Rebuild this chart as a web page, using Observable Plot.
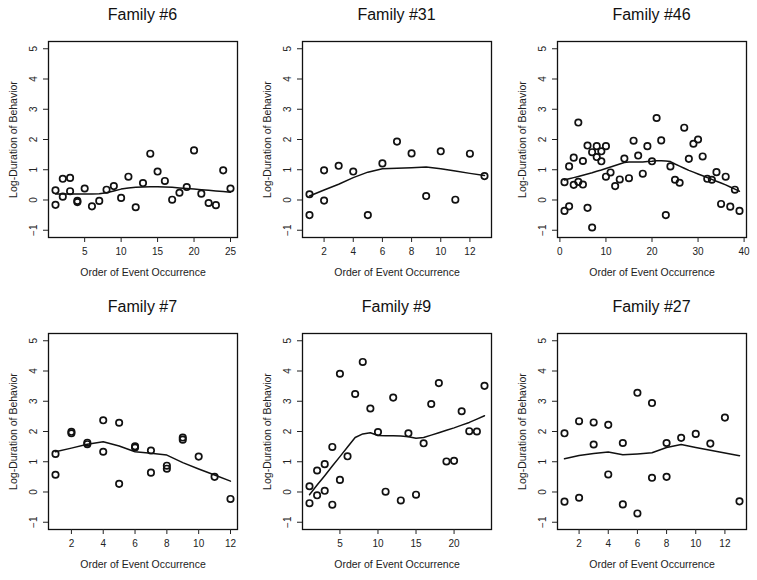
<!DOCTYPE html>
<html>
<head>
<meta charset="utf-8">
<script src="https://cdn.jsdelivr.net/npm/d3@7"></script>
<script src="https://cdn.jsdelivr.net/npm/@observablehq/plot@0.6"></script>
<style>
  body { margin: 0; background: #fff; }
  #chart { position: relative; width: 757px; height: 580px; font-family: "Liberation Sans", Arial, sans-serif; }
  .panel { position: absolute; width: 252px; }
  .panel .title { height: 28px; line-height: 30px; padding-left: 48px; width: 189px; text-align: center; font-size: 16px; color: #111; }
  .panel svg { display: block; }
</style>
</head>
<body>
<div id="chart"></div>
<script>
// log-duration per event; fit = smoothed line at order 1..n
const yTicks = [-1, 0, 1, 2, 3, 4, 5];
const xLabel = "Order of Event Occurrence";
const yLabel = "Log-Duration of Behavior";

const fam6Order = [1,1,2,2,3,3,4,4,5,6,7,8,9,10,11,12,13,14,15,16,17,18,19,20,21,22,23,24,25];
const fam6Dur = [0.32,-0.16,0.70,0.11,0.73,0.29,-0.03,-0.07,0.38,-0.21,-0.03,0.34,0.46,0.07,0.77,-0.24,0.56,1.53,0.94,0.63,0.01,0.24,0.43,1.64,0.21,-0.10,-0.17,0.98,0.38];
const fam6Fit = [0.20,0.20,0.20,0.20,0.20,0.20,0.21,0.24,0.30,0.36,0.40,0.42,0.43,0.44,0.44,0.43,0.42,0.40,0.38,0.36,0.34,0.32,0.30,0.28,0.26];
const fam6Ticks = [5, 10, 15, 20, 25];

const fam31Order = [1,1,2,2,3,4,5,6,7,8,9,10,11,12,13];
const fam31Dur = [0.19,-0.50,0.98,-0.02,1.13,0.94,-0.50,1.21,1.93,1.54,0.13,1.61,0.01,1.53,0.79];
const fam31Fit = [0.13,0.33,0.52,0.74,0.92,1.03,1.05,1.07,1.09,1.03,0.96,0.88,0.81];
const fam31Ticks = [2, 4, 6, 8, 10, 12];

const fam46Order = [1,1,2,2,3,3,4,4,5,5,6,6,7,7,8,8,9,9,10,10,11,12,13,14,15,16,17,18,19,20,21,22,23,24,25,26,27,28,29,30,31,32,33,34,35,36,37,38,39];
const fam46Dur = [0.59,-0.36,1.11,-0.21,1.40,0.50,2.56,0.60,1.29,0.51,1.80,-0.26,1.58,-0.91,1.78,1.42,1.61,1.28,1.78,0.77,0.91,0.46,0.68,1.37,0.72,1.96,1.47,0.87,1.78,1.28,2.71,1.97,-0.50,1.11,0.67,0.57,2.39,1.36,1.86,2.00,1.44,0.70,0.67,0.92,-0.13,0.77,-0.22,0.34,-0.36];
const fam46Fit = [0.66,0.70,0.74,0.78,0.82,0.86,0.90,0.95,0.99,1.04,1.09,1.14,1.19,1.24,1.26,1.26,1.26,1.26,1.27,1.28,1.30,1.30,1.29,1.27,1.19,1.12,1.05,0.98,0.92,0.86,0.80,0.74,0.68,0.62,0.56,0.50,0.43,0.36,0.29];
const fam46Ticks = [0, 10, 20, 30, 40];

const fam7Order = [1,1,2,2,3,3,4,4,5,5,6,6,7,7,8,8,9,9,10,11,12];
const fam7Dur = [1.26,0.57,1.99,1.94,1.63,1.58,2.37,1.33,2.29,0.27,1.51,1.47,1.37,0.64,0.87,0.77,1.80,1.73,1.17,0.50,-0.23];
const fam7Fit = [1.33,1.45,1.58,1.66,1.52,1.33,1.28,1.22,0.97,0.76,0.56,0.36];
const fam7Ticks = [2, 4, 6, 8, 10, 12];

const fam9Order = [1,1,2,2,3,3,4,4,5,5,6,7,8,9,10,11,12,13,14,15,16,17,18,19,20,21,22,23,24];
const fam9Dur = [0.19,-0.37,0.71,-0.11,0.92,0.04,1.49,-0.42,3.91,0.40,1.18,3.24,4.30,2.76,1.98,0.01,3.12,-0.28,1.94,-0.09,1.61,2.91,3.60,1.01,1.03,2.67,2.01,2.00,3.51];
const fam9Fit = [-0.09,0.23,0.54,0.86,1.17,1.49,1.80,1.92,1.96,1.87,1.86,1.86,1.85,1.83,1.78,1.80,1.88,1.96,2.04,2.12,2.21,2.30,2.41,2.52];
const fam9Ticks = [5, 10, 15, 20];

const fam27Order = [1,1,2,2,3,3,4,4,5,5,6,6,7,7,8,8,9,10,11,12,13];
const fam27Dur = [1.94,-0.32,2.34,-0.19,2.30,1.57,2.22,0.58,1.62,-0.41,3.28,-0.71,2.94,0.47,1.62,0.50,1.79,1.92,1.60,2.46,-0.31];
const fam27Fit = [1.10,1.21,1.27,1.32,1.23,1.26,1.30,1.47,1.57,1.47,1.38,1.29,1.20];
const fam27Ticks = [2, 4, 6, 8, 10, 12];

const panels = [
  {title: "Family #6", order: fam6Order, dur: fam6Dur, fit: fam6Fit, ticks: fam6Ticks, left: 0, top: 0},
  {title: "Family #31", order: fam31Order, dur: fam31Dur, fit: fam31Fit, ticks: fam31Ticks, left: 254, top: 0},
  {title: "Family #46", order: fam46Order, dur: fam46Dur, fit: fam46Fit, ticks: fam46Ticks, left: 509, top: 0},
  {title: "Family #7", order: fam7Order, dur: fam7Dur, fit: fam7Fit, ticks: fam7Ticks, left: 0, top: 292},
  {title: "Family #9", order: fam9Order, dur: fam9Dur, fit: fam9Fit, ticks: fam9Ticks, left: 254, top: 292},
  {title: "Family #27", order: fam27Order, dur: fam27Dur, fit: fam27Fit, ticks: fam27Ticks, left: 509, top: 292}
];

const root = d3.select("#chart");

panels.forEach(p => {
  const pts = p.order.map((x, i) => ({x, y: p.dur[i]}));
  const fit = p.fit.map((y, i) => ({x: i + 1, y}));
  const [lo, hi] = d3.extent(p.order);
  const pad = (hi - lo) * 0.04; // R's default axis expansion

  const chart = Plot.plot({
    width: 252,
    height: 262,
    marginLeft: 48,
    marginRight: 15,
    marginTop: 13,
    marginBottom: 53,
    style: {fontFamily: "Liberation Sans, Arial, sans-serif", fontSize: "10px", color: "#222", background: "white", overflow: "visible"},
    x: {domain: [lo - pad, hi + pad]},
    y: {domain: [-1.24, 5.24]},
    marks: [
      Plot.frame({stroke: "#111", strokeWidth: 1.3}),
      Plot.axisX({ticks: p.ticks, tickFormat: "d", tickSize: 5, tickPadding: 5, label: null}),
      Plot.axisY({ticks: yTicks, tickFormat: "d", tickSize: 5, tickPadding: 7, tickRotate: -90, label: null}),
      Plot.line(fit, {x: "x", y: "y", stroke: "#111", strokeWidth: 1.5}),
      Plot.dot(pts, {x: "x", y: "y", r: 3.2, stroke: "#111", strokeWidth: 1.7, fill: "none"}),
      Plot.text([xLabel], {frameAnchor: "bottom", dy: 38, fontSize: 10.5, fill: "#222"}),
      Plot.text([yLabel], {frameAnchor: "left", dx: -35, rotate: -90, textAnchor: "middle", fontSize: 10.5, fill: "#222"})
    ]
  });

  const cell = root.append("div").attr("class", "panel")
    .style("left", p.left + "px").style("top", p.top + "px");
  cell.append("div").attr("class", "title").text(p.title);
  cell.append(() => chart);
});
</script>
</body>
</html>
